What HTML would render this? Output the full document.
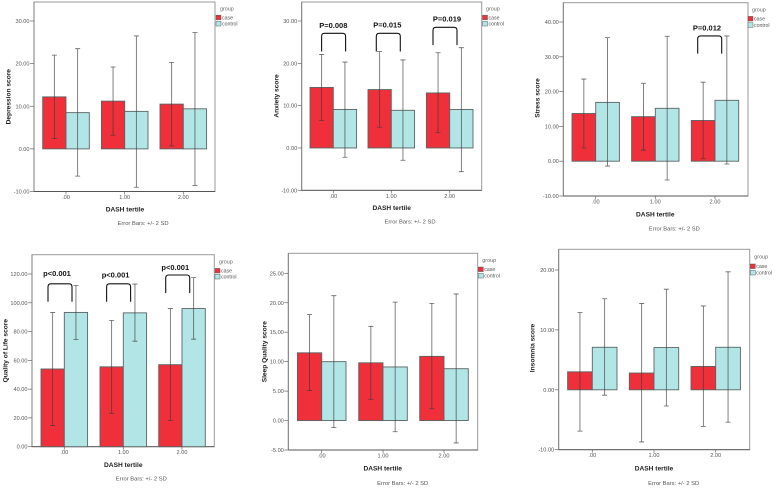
<!DOCTYPE html>
<html lang="en">
<head>
<meta charset="utf-8">
<title>DASH tertile score charts</title>
<style>
html,body{margin:0;padding:0;background:#fff;}
body{width:778px;height:489px;overflow:hidden;}
svg{display:block;filter:blur(0.35px);}
text{font-family:"Liberation Sans",sans-serif;}
</style>
</head>
<body>
<svg id="figure" width="778" height="489" viewBox="0 0 778 489" xmlns="http://www.w3.org/2000/svg"></svg>
<script>
const categories = ['.00', '1.00', '2.00'];
const groups = ['case', 'control'];

const depressionCase = [12.2, 11.2, 10.5];
const depressionControl = [8.5, 8.8, 9.4];
const depressionCaseLow = [2.4, 3.2, 0.7];
const depressionCaseHigh = [22, 19.2, 20.3];
const depressionControlLow = [-6.4, -9, -8.6];
const depressionControlHigh = [23.5, 26.5, 27.3];
const depressionTicks = [-10, 0, 10, 20, 30];

const anxietyCase = [14.3, 13.8, 13];
const anxietyControl = [9.1, 8.9, 9.1];
const anxietyCaseLow = [6.5, 4.9, 3.6];
const anxietyCaseHigh = [22.1, 22.8, 22.5];
const anxietyControlLow = [-2.2, -2.9, -5.6];
const anxietyControlHigh = [20.3, 20.8, 23.7];
const anxietyTicks = [-10, 0, 10, 20, 30];

const stressCase = [13.7, 12.8, 11.7];
const stressControl = [16.9, 15.2, 17.5];
const stressCaseLow = [3.8, 3.2, 0.7];
const stressCaseHigh = [23.6, 22.4, 22.7];
const stressControlLow = [-1.4, -5.4, -0.8];
const stressControlHigh = [35.5, 35.9, 36];
const stressTicks = [-10, 0, 10, 20, 30, 40];

const qolCase = [54, 55.5, 57];
const qolControl = [93.3, 93, 96];
const qolCaseLow = [14.7, 23.2, 18.3];
const qolCaseHigh = [93.3, 87.8, 96];
const qolControlLow = [74.5, 73.3, 74.7];
const qolControlHigh = [112, 113, 117.5];
const qolTicks = [0, 20, 40, 60, 80, 100, 120];

const sleepCase = [11.5, 9.8, 10.9];
const sleepControl = [10, 9.1, 8.8];
const sleepCaseLow = [5.1, 3.6, 2];
const sleepCaseHigh = [18, 16, 19.9];
const sleepControlLow = [-1.2, -1.9, -3.8];
const sleepControlHigh = [21.2, 20.1, 21.5];
const sleepTicks = [-5, 0, 5, 10, 15, 20, 25];

const insomniaCase = [3, 2.8, 3.9];
const insomniaControl = [7.1, 7.05, 7.1];
const insomniaCaseLow = [-6.9, -8.7, -6.1];
const insomniaCaseHigh = [12.9, 14.4, 14];
const insomniaControlLow = [-0.9, -2.7, -5.4];
const insomniaControlHigh = [15.2, 16.8, 19.7];
const insomniaTicks = [-10, 0, 10, 20];

const anxietyPLabels = ['P=0.008', 'P=0.015', 'P=0.019'];
const anxietyPCategories = [0, 1, 2];
const anxietyPTop = [27.1, 27.1, 28.5];
const anxietyPBottom = [22.8, 22.8, 24.3];
const anxietyPText = [29, 29.1, 30.5];

const stressPLabels = ['P=0.012'];
const stressPCategories = [2];
const stressPTop = [36];
const stressPBottom = [30.9];
const stressPText = [38.3];

const qolPLabels = ['p<0.001', 'p<0.001', 'p<0.001'];
const qolPCategories = [0, 1, 2];
const qolPTop = [113.2, 113.2, 119.3];
const qolPBottom = [100.7, 100.7, 106.7];
const qolPText = [120.6, 119.3, 124.8];

const panels = [
  {key:'depression', title:'Depression score', caseV:depressionCase, ctrlV:depressionControl, caseLo:depressionCaseLow, caseHi:depressionCaseHigh, ctrlLo:depressionControlLow, ctrlHi:depressionControlHigh, ticks:depressionTicks,
   box:{l:34,r:215,t:2,b:191.5}, tickHi:{v:30,y:21}, cx:[66,124.7,183.3], bw:23.3, leg:{x:216,gx:220,gy:8.7,r1:17.5,r2:23.7}, xt:{x:125,y:209}, note:{x:143,y:223}, yt:{x:8.3,y:96.7}},
  {key:'anxiety', title:'Anxiety score', caseV:anxietyCase, ctrlV:anxietyControl, caseLo:anxietyCaseLow, caseHi:anxietyCaseHigh, ctrlLo:anxietyControlLow, ctrlHi:anxietyControlHigh, ticks:anxietyTicks,
   box:{l:301.7,r:481.7,t:2,b:190.3}, tickHi:{v:30,y:21}, cx:[333.3,391.3,449.7], bw:23.3, leg:{x:482.5,gx:486,gy:8.7,r1:17.5,r2:23.7}, xt:{x:391.7,y:207.7}, note:{x:410,y:221.7}, yt:{x:276,y:96},
   ann:{labels:anxietyPLabels, cats:anxietyPCategories, top:anxietyPTop, bottom:anxietyPBottom, text:anxietyPText, shift:[0.3,-3,-4.7], labelShift:[0,-4,-2.7]}},
  {key:'stress', title:'Stress score', caseV:stressCase, ctrlV:stressControl, caseLo:stressCaseLow, caseHi:stressCaseHigh, ctrlLo:stressControlLow, ctrlHi:stressControlHigh, ticks:stressTicks,
   box:{l:563.3,r:748,t:2.7,b:196}, tickHi:{v:40,y:22}, cx:[595.7,655.3,715], bw:23.7, leg:{x:748,gx:752,gy:9.7,r1:18.7,r2:25}, xt:{x:655.3,y:214}, note:{x:674.3,y:228.3}, yt:{x:537,y:98},
   ann:{labels:stressPLabels, cats:stressPCategories, top:stressPTop, bottom:stressPBottom, text:stressPText, shift:[-5.3], labelShift:[-8]}},
  {key:'quality-of-life', title:'Quality of Life score', caseV:qolCase, ctrlV:qolControl, caseLo:qolCaseLow, caseHi:qolCaseHigh, ctrlLo:qolControlLow, ctrlHi:qolControlHigh, ticks:qolTicks,
   box:{l:32,r:214.3,t:254.7,b:446.7}, tickHi:{v:120,y:274}, cx:[64.3,123.3,182], bw:23.3, leg:{x:215,gx:219,gy:261.3,r1:270.7,r2:276.7}, xt:{x:123.3,y:464.7}, note:{x:141.3,y:478.7}, yt:{x:5,y:350.7},
   ann:{labels:qolPLabels, cats:qolPCategories, top:qolPTop, bottom:qolPBottom, text:qolPText, shift:[-4.3,-4.7,-4.3], labelShift:[-7.3,-7.7,-6.7]}},
  {key:'sleep-quality', title:'Sleep Quality score', caseV:sleepCase, ctrlV:sleepControl, caseLo:sleepCaseLow, caseHi:sleepCaseHigh, ctrlLo:sleepControlLow, ctrlHi:sleepControlHigh, ticks:sleepTicks,
   box:{l:288.3,r:477.7,t:253.3,b:450}, tickHi:{v:25,y:273.3}, cx:[321.7,383,444], bw:24.3, leg:{x:478.3,gx:482.3,gy:260,r1:269.3,r2:275.7}, xt:{x:382.7,y:468.3}, note:{x:402.7,y:483}, yt:{x:264,y:351.7}},
  {key:'insomnia', title:'Insomnia  score', caseV:insomniaCase, ctrlV:insomniaControl, caseLo:insomniaCaseLow, caseHi:insomniaCaseHigh, ctrlLo:insomniaControlLow, ctrlHi:insomniaControlHigh, ticks:insomniaTicks,
   box:{l:558.7,r:749.7,t:249.3,b:449.7}, tickHi:{v:20,y:270}, cx:[592.3,654,715.7], bw:24.7, leg:{x:750.3,gx:754.3,gy:256.7,r1:266.3,r2:272.7}, xt:{x:654,y:468.3}, note:{x:673.7,y:483}, yt:{x:532,y:348}}
];

const NS = 'http://www.w3.org/2000/svg';
const svg = document.getElementById('figure');

function mk(parent, tag, attrs, txt) {
  const el = document.createElementNS(NS, tag);
  for (const k in attrs) el.setAttribute(k, attrs[k]);
  if (txt !== undefined) el.textContent = txt;
  parent.appendChild(el);
  return el;
}

function drawError(g, x, lo, hi, y, name) {
  const e = mk(g, 'path', {
    d: 'M' + (x - 2.5) + ' ' + y(hi) + 'H' + (x + 2.5) + 'M' + x + ' ' + y(hi) + 'V' + y(lo) + 'M' + (x - 2.5) + ' ' + y(lo) + 'H' + (x + 2.5),
    fill: 'none', stroke: '#3c3c3c', 'stroke-width': '0.8', 'stroke-opacity': '0.8'
  });
  
  
}

function drawBar(g, x, w, v, y, fill, name) {
  const top = Math.min(y(v), y(0));
  const b = mk(g, 'rect', {
    x: x, y: top, width: w, height: Math.abs(y(0) - y(v)),
    fill: fill, stroke: '#5a6464', 'stroke-width': '0.9'
  });
  
  
}

panels.forEach(function (p) {
  const g = mk(svg, 'g', {});
  
  

  const minV = p.ticks[0];
  const y = function (v) {
    return p.box.b - (v - minV) * (p.box.b - p.tickHi.y) / (p.tickHi.v - minV);
  };

  const frame = mk(g, 'rect', {
    x: p.box.l, y: p.box.t, width: p.box.r - p.box.l, height: p.box.b - p.box.t,
    fill: '#fff', stroke: '#9a9a9a', 'stroke-width': '1'
  });
  
  

  const yAxis = mk(g, 'g', {});
  
  
  mk(yAxis, 'line', {x1: p.box.l, x2: p.box.l, y1: p.box.t, y2: p.box.b, stroke: '#777', 'stroke-width': '0.8'});
  p.ticks.forEach(function (t) {
    mk(yAxis, 'line', {x1: p.box.l - 4, x2: p.box.l, y1: y(t), y2: y(t), stroke: '#666', 'stroke-width': '0.7'});
    const lab = mk(yAxis, 'text', {x: p.box.l - 4.5, y: y(t) + 2, 'text-anchor': 'end', 'font-size': '5.6', fill: '#555'}, t.toFixed(2));
    
    
  });

  const xAxis = mk(g, 'g', {});
  
  
  mk(xAxis, 'line', {x1: p.box.l, x2: p.box.r, y1: p.box.b, y2: p.box.b, stroke: '#555', 'stroke-width': '0.9'});

  categories.forEach(function (c, i) {
    const cx = p.cx[i];
    drawBar(g, cx - p.bw, p.bw, p.caseV[i], y, '#ef2f3a', 'bar-case-' + i);
    drawBar(g, cx, p.bw, p.ctrlV[i], y, '#b2e5e6', 'bar-control-' + i);
    drawError(g, cx - p.bw / 2, p.caseLo[i], p.caseHi[i], y, 'error-bar-case-' + i);
    drawError(g, cx + p.bw / 2, p.ctrlLo[i], p.ctrlHi[i], y, 'error-bar-control-' + i);
    mk(xAxis, 'line', {x1: cx, x2: cx, y1: p.box.b, y2: p.box.b + 3, stroke: '#666', 'stroke-width': '0.7'});
    const lab = mk(xAxis, 'text', {x: cx, y: p.box.b + 7.5, 'text-anchor': 'middle', 'font-size': '5.6', fill: '#555'}, c);
    
    
  });

  if (p.ann) {
    p.ann.labels.forEach(function (label, i) {
      const c = p.ann.cats[i];
      const mx = p.cx[c] + p.ann.shift[i];
      const x0 = mx - 12, x1 = mx + 12;
      const yt = y(p.ann.top[i]), yb = y(p.ann.bottom[i]);
      const br = mk(g, 'path', {
        d: 'M' + x0 + ' ' + yb + 'V' + (yt + 3) + 'Q' + x0 + ' ' + yt + ' ' + (x0 + 3) + ' ' + yt + 'H' + (x1 - 3) + 'Q' + x1 + ' ' + yt + ' ' + x1 + ' ' + (yt + 3) + 'V' + yb,
        fill: 'none', stroke: '#111', 'stroke-width': '1.1'
      });
      
      
      const t = mk(g, 'text', {x: p.cx[c] + p.ann.labelShift[i], y: y(p.ann.text[i]) + 2.7, 'text-anchor': 'middle', 'font-size': '7.5', 'font-weight': 'bold', fill: '#111'}, label);
      
      
    });
  }

  const xt = mk(g, 'text', {x: p.xt.x, y: p.xt.y + 2.3, 'text-anchor': 'middle', 'font-size': '6.6', 'font-weight': 'bold', fill: '#222'}, 'DASH tertile');
  
  

  const yTitle = mk(g, 'text', {x: 0, y: 0, transform: 'translate(' + (p.yt.x + 2.3) + ' ' + p.yt.y + ') rotate(-90)', 'text-anchor': 'middle', 'font-size': '6.6', 'font-weight': 'bold', fill: '#222', 'xml:space': 'preserve'}, p.title);
  
  

  const note = mk(g, 'text', {x: p.note.x, y: p.note.y + 2, 'text-anchor': 'middle', 'font-size': '5.8', fill: '#555'}, 'Error Bars: +/- 2 SD');
  
  

  const legend = mk(g, 'g', {});
  
  
  mk(legend, 'text', {x: p.leg.gx, y: p.leg.gy + 2, 'font-size': '5.4', fill: '#666'}, 'group');
  groups.forEach(function (name, i) {
    const ry = i === 0 ? p.leg.r1 : p.leg.r2;
    const entry = mk(legend, 'g', {});
    
    
    mk(entry, 'rect', {x: p.leg.x, y: ry - 2.3, width: 5, height: 4.6, fill: i === 0 ? '#ef2f3a' : '#b2e5e6', stroke: '#5a6464', 'stroke-width': '0.5'});
    mk(entry, 'text', {x: p.leg.x + 6, y: ry + 1.9, 'font-size': '5.2', fill: '#555'}, name);
  });
});
</script>
</body>
</html>
